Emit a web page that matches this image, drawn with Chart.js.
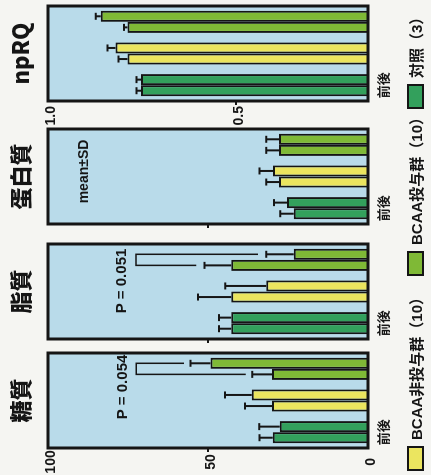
<!DOCTYPE html>
<html lang="ja">
<head>
<meta charset="utf-8">
<title>栄養素別エネルギー比率とnpRQ</title>
<script src="https://cdn.jsdelivr.net/npm/chart.js@4.4.1/dist/chart.umd.min.js"></script>
<style>
  html, body { margin:0; padding:0; width:431px; height:475px; overflow:hidden; background:#f5f5f2; }
  /* the figure is laid out upright (475 x 431) and turned a quarter turn */
  #page { position:absolute; left:0; top:0; width:475px; height:431px;
          transform-origin:0 0; transform:translate(0,475px) rotate(-90deg); }
  #page canvas { position:absolute; top:0; }
  #legend { position:absolute; left:0; top:405px; width:475px; height:20px;
            font:bold 15px "Liberation Sans","Noto Sans CJK JP",sans-serif; color:#151515; }
  .item { position:absolute; top:0; height:20px; display:flex; align-items:center; white-space:nowrap; }
  .swatch { width:25px; height:17px; box-sizing:border-box; border:2px solid #151515; margin-right:6px; flex:none; }
</style>
</head>
<body>
<div id="page">
  <canvas id="c0" width="126" height="431"></canvas>
  <canvas id="c1" width="126" height="431"></canvas>
  <canvas id="c2" width="126" height="431"></canvas>
  <canvas id="c3" width="126" height="431"></canvas>
  <div id="legend"></div>
</div>
<script>
// ---- data ----
const panelTitles = ['糖質', '脂質', '蛋白質', 'npRQ'];
const groupLabels = ['対照（3）', 'BCAA非投与群（10）', 'BCAA投与群（10）'];
const timeLabels = ['前', '後'];

// energy share (%) before / after, per group (対照, 非投与, 投与)
const carbBefore      = [29.8, 30.0, 30.0];
const carbAfter       = [27.6, 36.3, 49.2];
const carbBeforeSD    = [4.1, 8.4, 6.2];
const carbAfterSD     = [6.4, 8.4, 6.3];

const fatBefore       = [42.7, 42.7, 42.7];
const fatAfter        = [42.7, 31.8, 23.2];
const fatBeforeSD     = [3.9, 10.4, 8.4];
const fatAfterSD      = [3.9, 12.8, 8.6];

const proteinBefore   = [23.2, 27.8, 27.8];
const proteinAfter    = [25.3, 29.7, 27.8];
const proteinBeforeSD = [4.2, 4.0, 4.0];
const proteinAfterSD  = [4.1, 4.2, 4.0];

const rqBefore        = [0.753, 0.789, 0.789];
const rqAfter         = [0.753, 0.821, 0.860];
const rqBeforeSD      = [0.012, 0.024, 0.009];
const rqAfterSD       = [0.012, 0.021, 0.013];

const percentTicks = [0, 50, 100];
const rqTicks = [0.5, 1.0];
const pValues = ['P = 0.054', 'P = 0.051'];
const bracketLevels = [72.4, 72.5];
const sdNote = 'mean±SD';

// ---- styling ----
const ink = '#151515';
const panelFill = '#b9dbea';
const groupColors = ['#33a05c', '#ebe55f', '#7fb936'];
const cjk = '"Noto Sans CJK JP", sans-serif';
const latin = '"Liberation Sans", "Noto Sans CJK JP", sans-serif';
const panelLefts = [27, 136, 251, 374];
const axisWidth = 27;

// fills the plot box, draws SD whiskers, significance brackets, notes and the frame
const panelPlugin = {
  id: 'panel',
  beforeDraw(chart) {
    const { ctx, chartArea: a } = chart;
    ctx.save();
    ctx.fillStyle = panelFill;
    ctx.fillRect(a.left, a.top, a.width, a.height);
    ctx.restore();
  },
  afterDatasetsDraw(chart, args, opts) {
    const { ctx, chartArea: a } = chart;
    const y = chart.scales.y;
    ctx.save();
    ctx.strokeStyle = ink;
    ctx.lineWidth = 2;
    chart.data.datasets.forEach((ds, di) => {
      chart.getDatasetMeta(di).data.forEach((bar, i) => {
        const tip = y.getPixelForValue(ds.data[i] + ds.sd[i]);
        ctx.beginPath();
        ctx.moveTo(bar.x, bar.y);
        ctx.lineTo(bar.x, tip);
        ctx.moveTo(bar.x - 3.5, tip);
        ctx.lineTo(bar.x + 3.5, tip);
        ctx.stroke();
      });
    });
    if (opts.bracket) {
      const b = opts.bracket;
      const lvl = y.getPixelForValue(b.level);
      ctx.lineWidth = 1.5;
      ctx.beginPath();
      const xs = chart.data.datasets.map((ds, di) => {
        const bar = chart.getDatasetMeta(di).data[b.group];
        const start = y.getPixelForValue(ds.data[b.group] + ds.sd[b.group] + b.gap);
        ctx.moveTo(bar.x, start);
        ctx.lineTo(bar.x, lvl);
        return bar.x;
      });
      ctx.moveTo(Math.min(...xs) - 0.75, lvl);
      ctx.lineTo(Math.max(...xs) + 0.75, lvl);
      ctx.stroke();
    }
    (opts.notes || []).forEach(n => {
      ctx.font = n.font;
      ctx.fillStyle = ink;
      ctx.textAlign = 'center';
      ctx.textBaseline = 'middle';
      ctx.fillText(n.text, a.left + n.dx, a.top + n.dy);
    });
    ctx.lineWidth = 3;
    ctx.strokeRect(a.left, a.top, a.width, a.height);
    ctx.restore();
  }
};

const panelSpecs = [
  { title: panelTitles[0], before: carbBefore, after: carbAfter, beforeSD: carbBeforeSD, afterSD: carbAfterSD,
    min: 0, max: 100, ticks: percentTicks, marked: [50], showLabels: true, crossAlign: 'center', labelPad: -1.7,
    format: v => String(v),
    bracket: { group: 2, level: bracketLevels[0], gap: 2 },
    notes: [{ text: pValues[0], dx: 61, dy: 74.5, font: 'bold 15px ' + latin }] },
  { title: panelTitles[1], before: fatBefore, after: fatAfter, beforeSD: fatBeforeSD, afterSD: fatAfterSD,
    min: 0, max: 100, ticks: percentTicks, marked: [50], showLabels: false, crossAlign: 'near', labelPad: 3,
    format: v => String(v),
    bracket: { group: 2, level: bracketLevels[1], gap: 2.6 },
    notes: [{ text: pValues[1], dx: 58, dy: 73.5, font: 'bold 15px ' + latin }] },
  { title: panelTitles[2], before: proteinBefore, after: proteinAfter, beforeSD: proteinBeforeSD, afterSD: proteinAfterSD,
    min: 0, max: 100, ticks: percentTicks, marked: [50], showLabels: false, crossAlign: 'near', labelPad: 3,
    format: v => String(v),
    bracket: null,
    notes: [{ text: sdNote, dx: 52.5, dy: 36, font: 'bold 14px ' + latin }] },
  { title: panelTitles[3], before: rqBefore, after: rqAfter, beforeSD: rqBeforeSD, afterSD: rqAfterSD,
    min: 0.15, max: 1.0, ticks: rqTicks, marked: [0.5], showLabels: true, crossAlign: 'near', labelPad: 1,
    format: v => v.toFixed(1),
    bracket: null, notes: [] }
];

function buildPanel(index, spec) {
  const canvas = document.getElementById('c' + index);
  canvas.style.left = (panelLefts[index] - axisWidth) + 'px';
  const bars = (values, sd, label) => ({
    label, data: values, sd,
    backgroundColor: groupColors, borderColor: ink, borderWidth: 2,
    categoryPercentage: 0.7, barPercentage: 1.0
  });
  return new Chart(canvas, {
    type: 'bar',
    data: {
      labels: groupLabels.map((g, i) => (i === 0 ? timeLabels.join('') : '')),
      datasets: [bars(spec.before, spec.beforeSD, timeLabels[0]), bars(spec.after, spec.afterSD, timeLabels[1])]
    },
    options: {
      responsive: false, animation: false, events: [],
      layout: { padding: { left: 0, right: 4, top: 0, bottom: 0 } },
      plugins: {
        legend: { display: false },
        tooltip: { enabled: false },
        title: { display: true, text: spec.title, fullSize: false, color: ink,
                 font: { family: cjk, size: 22, weight: 900, lineHeight: 1.2 },
                 padding: { top: 7, bottom: 14.6 } },
        panel: { bracket: spec.bracket, notes: spec.notes }
      },
      scales: {
        x: {
          grid: { display: false, drawTicks: false }, border: { display: false },
          ticks: { color: ink, font: { family: cjk, size: 13, weight: 'bold' }, padding: 7, maxRotation: 0, autoSkip: false },
          afterFit(s) { s.height = 63; }
        },
        y: {
          min: spec.min, max: spec.max,
          afterBuildTicks(s) { s.ticks = spec.ticks.map(v => ({ value: v })); },
          grid: { drawOnChartArea: false, drawTicks: true, tickLength: 4, lineWidth: 2,
                  color: c => (c.tick && spec.marked.includes(c.tick.value) ? ink : 'rgba(0,0,0,0)') },
          border: { display: false },
          ticks: { display: spec.showLabels, color: ink, font: { family: latin, size: 14, weight: 'bold' },
                   padding: spec.labelPad, crossAlign: spec.crossAlign, labelOffset: 3, callback: v => spec.format(v) },
          afterFit(s) { s.width = axisWidth; }
        }
      }
    },
    plugins: [panelPlugin]
  });
}

panelSpecs.forEach((spec, i) => buildPanel(i, spec));

// legend: 非投与, 投与, 対照 from left to right
const legendOrder = [1, 2, 0];
const legendLefts = [4, 199, 366];
const legend = document.getElementById('legend');
legendOrder.forEach((g, k) => {
  const item = document.createElement('div');
  item.className = 'item';
  item.style.left = legendLefts[k] + 'px';
  const sw = document.createElement('span');
  sw.className = 'swatch';
  sw.style.background = groupColors[g];
  const tx = document.createElement('span');
  tx.textContent = groupLabels[g];
  item.appendChild(sw);
  item.appendChild(tx);
  legend.appendChild(item);
});
</script>
</body>
</html>
